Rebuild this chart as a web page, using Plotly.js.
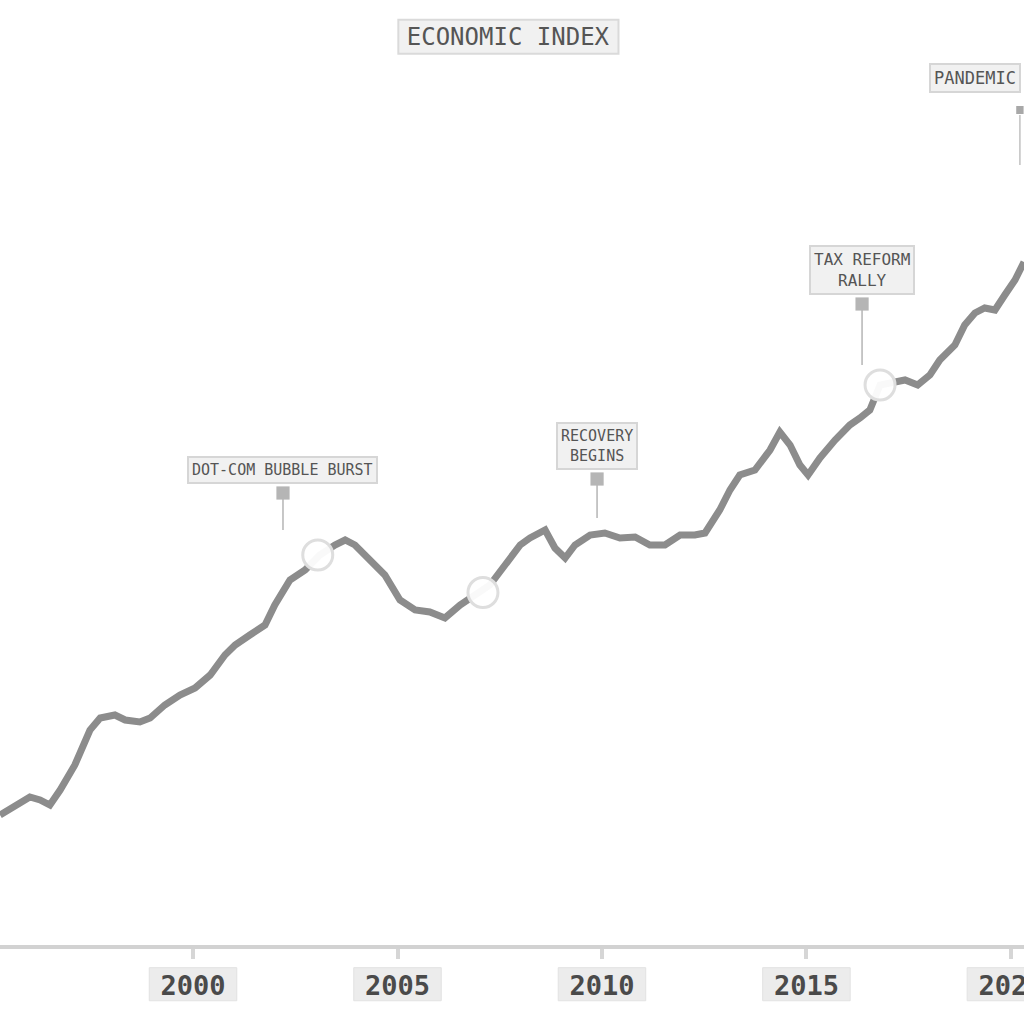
<!DOCTYPE html>
<html>
<head>
<meta charset="utf-8">
<script src="https://cdn.plot.ly/plotly-3.0.1.min.js"></script>
<style>html,body{margin:0;padding:0;background:#fff;}#chart{width:1024px;height:1024px;}</style>
</head>
<body>
<div id="chart"></div>
<script>
// Data
const years = [1995.28,1995.65,1996.01,1996.26,1996.50,1996.75,1997.11,1997.48,1997.73,1998.09,1998.34,1998.70,1998.95,1999.31,1999.68,2000.05,2000.42,2000.78,2001.03,2001.39,2001.76,2002.00,2002.37,2002.74,2003.10,2003.47,2003.72,2003.96,2004.33,2004.69,2005.06,2005.43,2005.79,2006.16,2006.53,2006.89,2007.26,2007.63,2008.00,2008.24,2008.61,2008.85,2009.10,2009.34,2009.71,2010.07,2010.44,2010.81,2011.17,2011.54,2011.91,2012.27,2012.52,2012.88,2013.13,2013.37,2013.74,2014.11,2014.35,2014.60,2014.84,2015.04,2015.33,2015.70,2016.06,2016.31,2016.55,2016.80,2017.11,2017.41,2017.72,2018.02,2018.26,2018.63,2018.87,2019.12,2019.36,2019.61,2019.85,2020.10,2020.32];
const index = [260,280,296,290,280,310,360,430,454,460,450,446,454,480,500,514,540,580,600,620,640,680,730,750,780,800,810,800,770,740,690,670,666,654,680,700,720,760,800,814,830,794,774,800,820,824,814,816,800,800,820,820,824,870,910,940,950,990,1026,1000,960,940,974,1010,1040,1054,1070,1120,1126,1130,1120,1140,1170,1200,1240,1264,1274,1270,1300,1330,1366];
const eventYears = [2003.05, 2007.09, 2016.80];
const eventValues = [780, 705, 1120];
const tickYears = [2000, 2005, 2010, 2015, 2020];
const tickLabels = ["2000", "2005", "2010", "2015", "2020"];
const titleText = "ECONOMIC INDEX";
const notes = [
  {text: "DOT-COM BUBBLE BURST", x: 2002.20, y: 830},
  {text: "RECOVERY<br>BEGINS", x: 2009.88, y: 854},
  {text: "TAX REFORM<br>RALLY", x: 2016.36, y: 1160},
  {text: "PANDEMIC", x: 2019.12, y: 1734}
];

const mono = "DejaVu Sans Mono, monospace";

const traces = [
  {x: years, y: index, type: "scatter", mode: "lines",
   line: {color: "#8c8c8c", width: 7}, hoverinfo: "skip", showlegend: false},
  {x: eventYears, y: eventValues, type: "scatter", mode: "markers",
   marker: {size: 30, color: "rgba(255,255,255,0.95)", line: {color: "#dedede", width: 3}},
   hoverinfo: "skip", showlegend: false}
];

const annStyle = {
  bgcolor: "#f1f1f1", bordercolor: "#d6d6d6", borderwidth: 2, borderpad: 3,
  font: {family: mono, size: 15, color: "#555"},
  arrowcolor: "#b5b5b5", arrowwidth: 1.5, arrowside: "start",
  startarrowhead: 7, startarrowsize: 2.2, startstandoff: 10, showarrow: true, ax: 0
};

const annotations = [
  Object.assign({}, annStyle, {x: notes[0].x, y: notes[0].y, text: notes[0].text, ay: -60}),
  Object.assign({}, annStyle, {x: notes[1].x, y: notes[1].y, text: notes[1].text, ay: -72}),
  Object.assign({}, annStyle, {x: notes[2].x, y: notes[2].y, text: notes[2].text, ay: -95, font: {family: mono, size: 16, color: "#555"}}),
  Object.assign({}, annStyle, {x: notes[3].x, y: notes[3].y, text: notes[3].text, showarrow: false, font: {family: mono, size: 17, color: "#555"}})
];

// gray boxes behind the tick labels
const tickBoxes = tickYears.map(function (t) {
  return {type: "rect", xref: "x", yref: "paper", x0: t - 1.07, x1: t + 1.07, y0: -0.059, y1: -0.024,
          fillcolor: "#ececec", line: {color: "#e2e2e2", width: 1}, layer: "below"};
});

const layout = {
  width: 1024, height: 1024,
  margin: {l: 0, r: 0, t: 0, b: 79},
  paper_bgcolor: "#ffffff", plot_bgcolor: "rgba(0,0,0,0)",
  title: {text: titleText, x: 0.496, xanchor: "center", y: 0.964, yanchor: "middle",
          font: {family: mono, size: 24, color: "#555"}},
  xaxis: {range: [1995.28, 2020.32], showgrid: false, zeroline: false,
          showline: true, linecolor: "#d2d2d2", linewidth: 4,
          ticks: "outside", ticklen: 10, tickwidth: 4, tickcolor: "#d6d6d6",
          tickvals: tickYears, ticktext: tickLabels, ticklabelstandoff: 4,
          ticklabeloverflow: "allow",
          tickfont: {family: mono, size: 27, color: "#4a4a4a", weight: "bold"}, fixedrange: true},
  yaxis: {range: [0, 1890], visible: false, fixedrange: true},
  annotations: annotations,
  shapes: [
    {type: "rect", xref: "paper", yref: "paper", x0: 0.389, x1: 0.604, y0: 0.943, y1: 0.979,
     fillcolor: "#f1f1f1", line: {color: "#dadada", width: 2}, layer: "above"},
    {type: "line", xref: "x", yref: "y", x0: 2020.22, x1: 2020.22, y0: 1560, y1: 1660,
     line: {color: "#c0c0c0", width: 1.5}},
    {type: "rect", xref: "x", yref: "y", x0: 2020.13, x1: 2020.31, y0: 1662, y1: 1678,
     fillcolor: "#a8a8a8", line: {width: 0}}
  ].concat(tickBoxes),
  showlegend: false
};

Plotly.newPlot("chart", traces, layout, {staticPlot: true, displayModeBar: false});
</script>
</body>
</html>
